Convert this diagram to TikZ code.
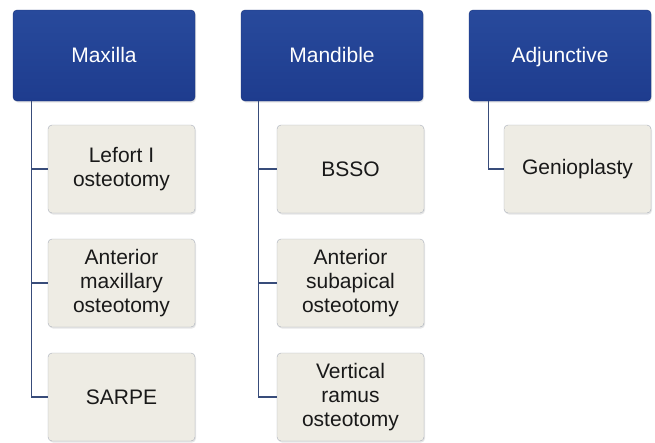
\documentclass[tikz,border=0pt]{standalone}
\usepackage{fontspec}
\setmainfont{Liberation Sans}
\usetikzlibrary{shadows}
\definecolor{headblue}{RGB}{30,60,142}
\definecolor{headtop}{RGB}{40,74,156}
\definecolor{boxfill}{RGB}{238,236,228}
\definecolor{boxline}{RGB}{168,174,186}
\definecolor{linkblue}{RGB}{56,76,122}
\begin{document}
\begin{tikzpicture}[x=1pt,y=-1pt,
    head/.style={draw=headblue!85!black,top color=headtop,bottom color=headblue,rounded corners=4pt,text=white,minimum width=182pt,minimum height=91pt,text height=17pt,text depth=3pt,font=\fontsize{21pt}{24pt}\selectfont,drop shadow={opacity=0.2,shadow xshift=1pt,shadow yshift=-1.5pt}},
    item/.style={draw=boxline,fill=boxfill,rounded corners=4pt,text=black!90,minimum width=147pt,minimum height=88pt,align=center,font=\fontsize{21pt}{24pt}\selectfont,drop shadow={opacity=0.2,shadow xshift=1pt,shadow yshift=-1.5pt}},
    link/.style={draw=linkblue,line width=1.3pt}]
\useasboundingbox (0,0) rectangle (655,442);
\node[head] (maxilla) at (104,55.5) {Maxilla};
\node[head] (mandible) at (332,55.5) {Mandible};
\node[head] (adjunctive) at (560,55.5) {Adjunctive};
\node[item] (lefort) at (121.5,169) {Lefort I\\osteotomy};
\node[item] (amo) at (121.5,283) {Anterior\\maxillary\\osteotomy};
\node[item] (sarpe) at (121.5,397) {SARPE};
\node[item] (bsso) at (350.5,169) {BSSO};
\node[item] (aso) at (350.5,283) {Anterior\\subapical\\osteotomy};
\node[item] (vro) at (350.5,397) {Vertical\\ramus\\osteotomy};
\node[item] (genio) at (577.5,169) {Genioplasty};
\draw[link] ([xshift=19pt]maxilla.south west) |- (lefort.west);
\draw[link] ([xshift=19pt]maxilla.south west) |- (amo.west);
\draw[link] ([xshift=19pt]maxilla.south west) |- (sarpe.west);
\draw[link] ([xshift=18pt]mandible.south west) |- (bsso.west);
\draw[link] ([xshift=18pt]mandible.south west) |- (aso.west);
\draw[link] ([xshift=18pt]mandible.south west) |- (vro.west);
\draw[link] ([xshift=20pt]adjunctive.south west) |- (genio.west);
\end{tikzpicture}
\end{document}
